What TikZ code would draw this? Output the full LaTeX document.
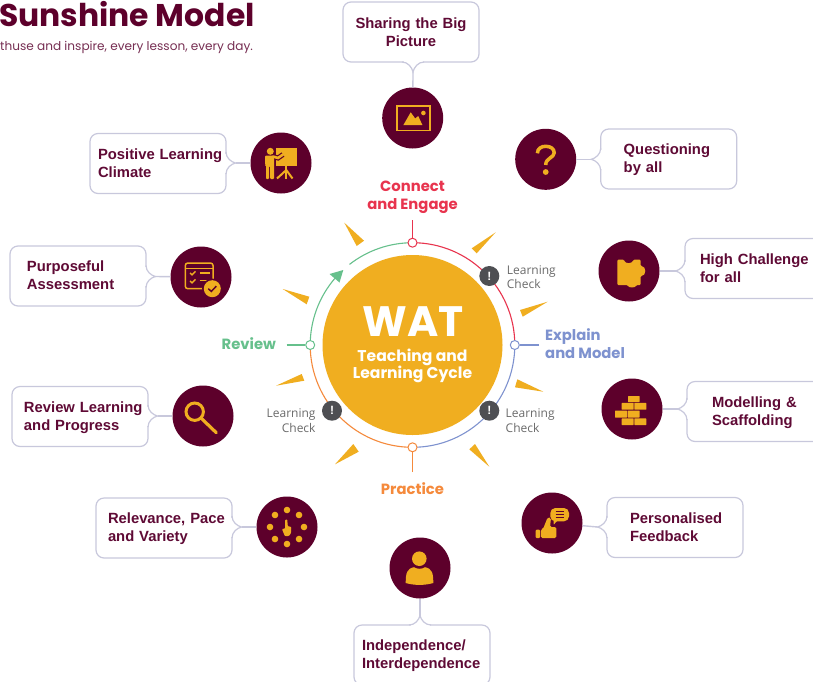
\documentclass[tikz,border=0pt]{standalone}
\usepackage{fontspec}
\setmainfont{Liberation Sans}
\newfontfamily\pop{Poppins}
\newfontfamily\opn{Open Sans}
\definecolor{maroon}{HTML}{5D002B}
\definecolor{labeltxt}{HTML}{5F0A35}
\definecolor{gold}{HTML}{F0AE20}
\definecolor{edgeb}{HTML}{C8C8DC}
\definecolor{redc}{HTML}{E8344E}
\definecolor{bluec}{HTML}{7E92CF}
\definecolor{greenc}{HTML}{66C08C}
\definecolor{orangec}{HTML}{F58A3C}
\definecolor{grayd}{HTML}{4E4F53}
\definecolor{grayt}{HTML}{6B6B6B}
\tikzset{
  callbox/.style={draw=edgeb,line width=1.2pt,fill=white,rounded corners=8pt,minimum height=60pt,
    inner xsep=0pt,inner ysep=0pt,text width=136pt,align=left,text=labeltxt,
    font=\fontsize{14.8}{18}\selectfont\bfseries},
  disc/.style={circle,fill=maroon,minimum size=61pt,inner sep=0pt},
  link/.style={draw=edgeb,line width=1.4pt},
  icon/.style={fill=gold,draw=none},
  iconline/.style={draw=gold,fill=none},
  ray/.style={fill=gold,draw=none},
  core/.style={circle,fill=gold,minimum size=180pt,inner sep=0pt},
  stagehead/.style={font=\pop\fontsize{14.8}{18}\selectfont\bfseries,align=center,inner sep=0pt},
  lcheck/.style={font=\opn\fontsize{12}{14.6}\selectfont,text=grayt,inner sep=0pt},
  ringdot/.style={circle,fill=white,draw,line width=1pt,minimum size=9pt,inner sep=0pt},
  warn/.style={circle,fill=grayd,minimum size=20pt,inner sep=0pt,text=white,font=\fontsize{12}{12}\selectfont\bfseries},
  arcline/.style={line width=1.1pt}
}
\newcommand{\lstrut}{\rule[-4.4pt]{0pt}{18pt}}
\newcommand{\boxtext}[3]{\lstrut\hspace*{#1pt}#2\\\lstrut\hspace*{#1pt}#3}
% tail on a vertical box edge: edge x, y, signed depth
\newcommand{\tailH}[3]{%
  \draw[white,line width=2.2pt] (#1,#2-9.5) -- (#1,#2+9.5);
  \path[fill=white,draw=edgeb,line width=1.2pt] (#1,#2-11) .. controls (#1,#2-5) and (#1+0.55*#3,#2-1) .. (#1+#3,#2) .. controls (#1+0.55*#3,#2+1) and (#1,#2+5) .. (#1,#2+11);}
% tail on a horizontal box edge: x, edge y, signed depth
\newcommand{\tailV}[3]{%
  \draw[white,line width=2.2pt] (#1-9.5,#2) -- (#1+9.5,#2);
  \path[fill=white,draw=edgeb,line width=1.2pt] (#1-11,#2) .. controls (#1-5,#2) and (#1-1,#2+0.55*#3) .. (#1,#2+#3) .. controls (#1+1,#2+0.55*#3) and (#1+5,#2) .. (#1+11,#2);}
\begin{document}
\begin{tikzpicture}[x=1pt,y=-1pt]
\useasboundingbox (0,0) rectangle (813,681);
\clip (0,0) rectangle (813,681);
\fill[white] (0,0) rectangle (813,681);

% title
\node[anchor=base west,inner sep=0pt,text=maroon,font=\pop\fontsize{31.4}{31}\selectfont\bfseries] (title) at (-1,26) {Sunshine Model};
\node[anchor=base west,inner sep=0pt,text=labeltxt!85,font=\pop\fontsize{12.1}{12}\selectfont] (subtitle) at (0,50) {thuse and inspire, every lesson, every day.};

% rays
\fill[ray] (344.3,222.7) -- (356.7,246) -- (364,240.7) -- cycle;
\fill[ray] (495.7,232.3) -- (471.7,248.3) -- (476.7,253.3) -- cycle;
\fill[ray] (547.7,301.7) -- (520,310) -- (522.7,316.7) -- cycle;
\fill[ray] (543.3,391.7) -- (517.3,379.3) -- (515,387.3) -- cycle;
\fill[ray] (489.3,466.7) -- (475,444) -- (469.3,449.3) -- cycle;
\fill[ray] (335,464.3) -- (353.3,444) -- (358.7,451.7) -- cycle;
\fill[ray] (276,385.7) -- (301.7,374) -- (304.3,380.7) -- cycle;
\fill[ray] (282.7,289) -- (309.3,296.7) -- (306.7,304.3) -- cycle;

% centre
\node[core] (hub) at (412.5,345) {};
\node[inner sep=0pt,text=white,font=\pop\fontsize{42.5}{42}\selectfont\bfseries] (wat) at (413.5,322) {WAT};
\node[inner sep=0pt,text=white,align=center,font=\pop\fontsize{15.6}{17.6}\selectfont\bfseries] (cyc) at (412.5,366) {Teaching and\\Learning Cycle};

% ring
\draw[redc,arcline] (412.5,242.7) arc[start angle=90,end angle=0,radius=102.3pt];
\draw[bluec,arcline] (514.8,345) arc[start angle=0,end angle=-90,radius=102.3pt];
\draw[orangec,arcline] (412.5,447.3) arc[start angle=-90,end angle=-180,radius=102.3pt];
\draw[greenc,arcline] (310.2,345) arc[start angle=180,end angle=139,radius=102.3pt];
\draw[greenc,arcline] (349.5,264.4) arc[start angle=128,end angle=90,radius=102.3pt];
\fill[greenc] (343.3,270) -- (329.5,274) -- (339.5,282.5) -- cycle;

\coordinate (stubT) at (412.5,220);
\coordinate (stubR) at (539,345);
\coordinate (stubB) at (412.5,472);
\coordinate (stubL) at (286.7,345);
\node[ringdot,draw=redc] (dotT) at (412.5,242.7) {};
\node[ringdot,draw=bluec] (dotR) at (514.8,345) {};
\node[ringdot,draw=orangec] (dotB) at (412.5,447.3) {};
\node[ringdot,draw=greenc] (dotL) at (310.2,345) {};
\draw[redc,arcline] (stubT) -- (dotT);
\draw[bluec,arcline] (stubR) -- (dotR);
\draw[orangec,arcline] (stubB) -- (dotB);
\draw[greenc,arcline] (stubL) -- (dotL);

\node[warn] (w1) at (489.3,276) {!};
\node[warn] (w2) at (489.3,410.7) {!};
\node[warn] (w3) at (332,410.7) {!};
\node[lcheck,anchor=west,align=left] (lc1) at (506.7,277.3) {Learning\\Check};
\node[lcheck,anchor=west,align=left] (lc2) at (505.5,420.7) {Learning\\Check};
\node[lcheck,anchor=east,align=right] (lc3) at (315.7,420.7) {Learning\\Check};

\node[stagehead,text=redc] (sC) at (412.5,197.7) {Connect\\and Engage};
\node[stagehead,text=bluec,anchor=west,align=left] (sE) at (545,343.3) {Explain\\and Model};
\node[stagehead,text=orangec] (sP) at (412.5,489) {Practice};
\node[stagehead,text=greenc,anchor=west] (sR) at (221.5,344) {Review};

% discs
\node[disc] (d1) at (412.7,118) {};
\node[disc] (d2) at (545.7,159.3) {};
\node[disc] (d3) at (629,271) {};
\node[disc] (d4) at (632,409) {};
\node[disc] (d5) at (552,523) {};
\node[disc] (d6) at (420,568) {};
\node[disc] (d7) at (287,527) {};
\node[disc] (d8) at (203,416) {};
\node[disc] (d9) at (201,277) {};
\node[disc] (d10) at (281,163) {};

% callouts
\node[callbox,align=center] (b1) at (411,32) {Sharing the Big\\Picture};
\node[callbox] (b2) at (668.7,159) {\boxtext{23}{Questioning}{by all}};
\node[callbox] (b3) at (753,268.5) {\boxtext{15}{High Challenge}{for all}};
\node[callbox] (b4) at (755,411.5) {\boxtext{25}{Modelling \&}{Scaffolding}};
\node[callbox] (b5) at (675,527.5) {\boxtext{23}{Personalised}{Feedback}};
\node[callbox] (b6) at (422,655) {\boxtext{8}{Independence/}{Interdependence}};
\node[callbox] (b7) at (164,528) {\boxtext{12}{Relevance, Pace}{and Variety}};
\node[callbox] (b8) at (80,416.5) {\boxtext{12}{Review Learning}{and Progress}};
\node[callbox] (b9) at (78,276) {\boxtext{17}{Purposeful}{Assessment}};
\node[callbox] (b10) at (158,163.5) {\boxtext{8}{Positive Learning}{Climate}};

\tailV{413}{62}{10}
\tailH{600.7}{159.3}{-9.5}
\tailH{685}{271}{-9.5}
\tailH{687}{409}{-9.5}
\tailH{607}{527}{-9.5}
\tailV{420}{625}{-9.5}
\tailH{232}{527}{9.5}
\tailH{148}{416}{9.5}
\tailH{146}{276.5}{9.5}
\tailH{226}{163}{9.5}

\coordinate (t1) at (413,72);
\coordinate (t2) at (591.2,159.3);
\coordinate (t3) at (675.5,271);
\coordinate (t4) at (677.5,409);
\coordinate (t5) at (597.5,527);
\coordinate (t6) at (420,615.5);
\coordinate (t7) at (241.5,527);
\coordinate (t8) at (157.5,416);
\coordinate (t9) at (155.5,276.5);
\coordinate (t10) at (235.5,163);
\foreach \i in {1,...,10} {\draw[link] (t\i) -- (d\i);}

% icon: picture
\begin{scope}[shift={(d1.center)}]
\draw[iconline,line width=1.6pt] (-15.5,-12.3) rectangle (17,12.3);
\fill[icon] (-9.3,7) -- (-2,-5.7) -- (2.5,0.5) -- (5.5,-2) -- (9.7,7) -- cycle;
\fill[icon] (10.7,-5) circle (2.3);
\end{scope}

% icon: question
\begin{scope}[shift={(d2.center)}]
\draw[iconline,line width=3.5pt] (-8.3,-6) .. controls (-8.3,-11) and (-4,-13) .. (0,-13) .. controls (5,-13) and (8.5,-10.5) .. (8.5,-6.5) .. controls (8.5,-1.5) and (0,-1.5) .. (0,5.7);
\fill[icon] (0,12.7) circle (2.9);
\end{scope}

% icon: puzzle
\begin{scope}[shift={(d3.center)}]
\fill[icon,rounded corners=1pt] (-11.7,-11.3) -- (-5,-11.3) .. controls (-4,-7) and (3,-7) .. (4.5,-11.3) -- (11.5,-11.3) -- (11.5,-5) .. controls (17.5,-5) and (17.5,5) .. (11.5,5) -- (11.5,14) -- (7.5,14) .. controls (6,17) and (0,17) .. (-1.5,14) -- (-11.7,14) -- cycle;
\end{scope}

% icon: bricks
\begin{scope}[shift={(d4.center)}]
\foreach \xa/\ya/\xb/\yb in {-4/-13/7.7/-7,-10.3/-6.2/1.7/0.7,2.3/-6.2/14.3/0.7,-17/1.5/-5/8.5,-4.3/1.5/7.7/8.5,-10.3/9.3/1.7/16,2.3/9.3/14.3/16}
  {\fill[icon,rounded corners=0.5pt] (\xa,\ya) rectangle (\xb,\yb);}
\end{scope}

% icon: thumb and bubble
\begin{scope}[shift={(d5.center)}]
\fill[icon,rounded corners=1pt] (-16.3,6.7) rectangle (-11.9,15);
\fill[icon,rounded corners=1.5pt] (-11.2,6.3) -- (-9,6) -- (-4.3,-5.7) -- (-1,-5) -- (-2,4) -- (4.3,4) -- (4.3,15) -- (-11.2,15) -- cycle;
\fill[icon] (1.5,-3) -- (1.8,1.5) -- (6,-3) -- cycle;
\fill[icon,rounded corners=5pt] (-1.7,-15) rectangle (17,-1.7);
\draw[maroon,line width=0.9pt] (3.6,-11.4) -- (11.6,-11.4) (3.6,-8.4) -- (11.6,-8.4) (3.6,-5.4) -- (11.6,-5.4);
\end{scope}

% icon: person
\begin{scope}[shift={(d6.center)}]
\fill[icon] (-0.7,-9.3) circle (7.3);
\fill[icon] (-14.3,15) .. controls (-14.3,5) and (-13,0.5) .. (-6,-0.8) .. controls (-3,1.3) and (2,1.3) .. (5,-0.8) .. controls (12,0.5) and (13.3,5) .. (13.3,15) .. controls (5,17.5) and (-6,17.5) .. (-14.3,15) -- cycle;
\end{scope}

% icon: dots and pointer
\begin{scope}[shift={(d7.center)}]
\foreach \a in {0,45,...,315} {\fill[icon] (\a:17pt) circle (3.3);}
\fill[icon,rounded corners=0.8pt] (-1.8,-7.5) -- (0.4,-7.5) -- (0.6,-1) -- (4.3,0) -- (4,6) -- (2,9) -- (-2.2,9) -- (-5,2) -- (-1.8,1.5) -- cycle;
\end{scope}

% icon: magnifier
\begin{scope}[shift={(d8.center)}]
\draw[iconline,line width=3pt] (-8.3,-4.3) circle (8.7);
\draw[iconline,line width=3.2pt,line cap=round] (-1.7,2.3) -- (13.3,16.7);
\end{scope}

% icon: checklist
\begin{scope}[shift={(d9.center)}]
\draw[iconline,line width=1.5pt,rounded corners=2.5pt] (-15.7,-14) rectangle (12,11.7);
\draw[iconline,line width=1.5pt] (-15.7,-8.3) -- (12,-8.3);
\draw[iconline,line width=1.4pt] (-11,-4) -- (-9,-2.2) -- (-5.5,-5.7);
\draw[iconline,line width=1.4pt] (-11,4) -- (-9,5.8) -- (-5.5,2.3);
\draw[iconline,line width=1.5pt] (-1.3,-4) -- (8.7,-4) (-1.3,3.5) -- (5.7,3.5);
\fill[maroon] (11.3,11.7) circle (10.2);
\fill[icon] (11.3,11.7) circle (8.5);
\draw[maroon,line width=1.5pt] (7.3,11.7) -- (10.3,14.4) -- (15.3,9.2);
\end{scope}

% icon: presenter
\begin{scope}[shift={(d10.center)}]
\fill[icon] (-5.3,-15) rectangle (16,2.7);
\draw[iconline,line width=2pt] (5.3,2.7) -- (5.3,16);
\draw[iconline,line width=2pt] (5.3,7) -- (-4,15.5) (5.3,7) -- (11.5,15.5);
\fill[icon] (-10.7,-11.7) circle (3.5);
\draw[maroon,line width=5pt] (-8,-6.5) -- (-3,-5) -- (2,-8.5);
\draw[iconline,line width=2.6pt,line cap=round] (-8,-6.5) -- (-3,-5) -- (2,-8.5);
\fill[icon,rounded corners=1pt] (-16,-7.5) -- (-7,-7.5) -- (-7,16) -- (-10.8,16) -- (-10.8,3) -- (-11.8,3) -- (-11.8,16) -- (-15,16) -- (-15,2) -- (-16,2) -- cycle;
\end{scope}
\end{tikzpicture}
\end{document}
